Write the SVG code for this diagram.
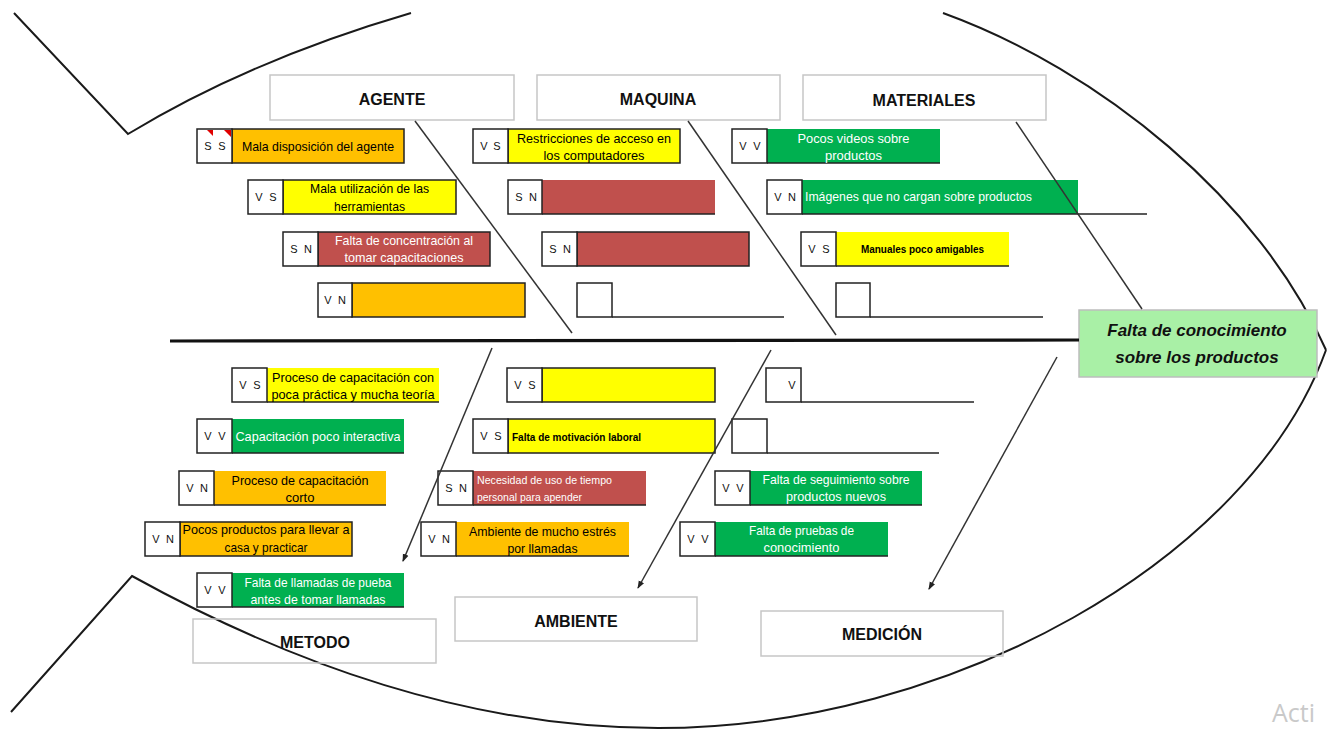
<svg xmlns="http://www.w3.org/2000/svg" width="1327" height="730" viewBox="0 0 1327 730">
<defs>
<style>
.fish{fill:none;stroke:#1a1a1a;stroke-width:2}
.spine{stroke:#111;stroke-width:3.2;fill:none}
.bone{stroke:#333;stroke-width:1.5;fill:none}
.cat{fill:none;stroke:#c6c6c6;stroke-width:1.5}
.catt{font-family:"Liberation Sans",Arial,sans-serif;font-weight:bold;font-size:16px;fill:#111;text-anchor:middle}
.code{fill:#fff;stroke:#222;stroke-width:1.5}
.ct{font-family:"Liberation Sans",Arial,sans-serif;font-size:11px;fill:#111;text-anchor:middle}
.o{fill:#FFC000}.y{fill:#FFFF00}.r{fill:#C0504D}.g{fill:#00B050}
.bd{stroke:#222;stroke-width:1.5}
.ul{stroke:#222;stroke-width:1.5;fill:none}
.t{font-family:"Liberation Sans",Arial,sans-serif;font-size:13px;fill:#000;text-anchor:middle}
.l{text-anchor:start}
.w{fill:#fff}
.s{font-size:11px}
.bo{font-weight:bold}
.mk{fill:#e00000}
.head{fill:#A9F0A6;stroke:#bdbdbd;stroke-width:1.5}
.headt{font-family:"Liberation Sans",Arial,sans-serif;font-weight:bold;font-style:italic;font-size:17px;fill:#111;text-anchor:middle}
</style>
<marker id="arr" markerWidth="8" markerHeight="8" refX="7" refY="4" orient="auto" markerUnits="userSpaceOnUse">
<path d="M0,1 L8,4 L0,7 Z" fill="#222"/>
</marker>
</defs>
<rect width="1327" height="730" fill="#fff"/>

<g id="outline">
<path class="fish" d="M14,13 L128,134 Q250,60 411,13"/>
<path class="fish" d="M943,13 C1100,70 1260,200 1326,350"/>
<path class="fish" d="M11,712 L132,576 C302,670 480,728 658,728 C950,728 1250,560 1326,350"/>
</g>

<g id="head">
<rect class="head" x="1079" y="310" width="238" height="67"/>
<text class="headt" x="1197" y="336">Falta de conocimiento</text>
<text class="headt" x="1197" y="363">sobre los productos</text>
</g>

<g id="cat-agente"><rect class="cat" x="270" y="75" width="244" height="45"/><text class="catt" x="392" y="105">AGENTE</text></g>
<g id="cat-maquina"><rect class="cat" x="537" y="75" width="243" height="45"/><text class="catt" x="658" y="105">MAQUINA</text></g>
<g id="cat-materiales"><rect class="cat" x="803" y="75" width="243" height="45"/><text class="catt" x="924" y="106">MATERIALES</text></g>
<g id="cat-metodo"><rect class="cat" x="193" y="619" width="243" height="44"/><text class="catt" x="315" y="648">METODO</text></g>
<g id="cat-ambiente"><rect class="cat" x="455" y="597" width="242" height="44"/><text class="catt" x="576" y="627">AMBIENTE</text></g>
<g id="cat-medicion"><rect class="cat" x="761" y="611" width="242" height="45"/><text class="catt" x="882" y="640">MEDICIÓN</text></g>

<!-- AGENTE causes -->
<g id="a1">
<rect class="o bd" x="232" y="129" width="172" height="34"/>
<rect class="code" x="197" y="129" width="35" height="34"/>
<path class="mk" d="M207,130 L213,130 L213,136 Z"/><path class="mk" d="M224,130 L231,130 L231,137 Z"/>
<text class="ct" x="208" y="150">S</text><text class="ct" x="222" y="150">S</text>
<text class="t" x="318" y="151" textLength="152" lengthAdjust="spacingAndGlyphs">Mala disposición del agente</text>
</g>
<g id="a2">
<rect class="y bd" x="283" y="180" width="173" height="34"/>
<rect class="code" x="248" y="180" width="35" height="34"/>
<text class="ct" x="259" y="201">V</text><text class="ct" x="273" y="201">S</text>
<text class="t" x="369.5" y="193" textLength="119" lengthAdjust="spacingAndGlyphs">Mala utilización de las</text>
<text class="t" x="369.5" y="211" textLength="71" lengthAdjust="spacingAndGlyphs">herramientas</text>
</g>
<g id="a3">
<rect class="r bd" x="318" y="232" width="172" height="34"/>
<rect class="code" x="283" y="232" width="35" height="34"/>
<text class="ct" x="294" y="253">S</text><text class="ct" x="308" y="253">N</text>
<text class="t w" x="404" y="245" textLength="138" lengthAdjust="spacingAndGlyphs">Falta de concentración al</text>
<text class="t w" x="404" y="262" textLength="119" lengthAdjust="spacingAndGlyphs">tomar capacitaciones</text>
</g>
<g id="a4">
<rect class="o bd" x="352" y="283" width="173" height="34"/>
<rect class="code" x="318" y="283" width="34" height="34"/>
<text class="ct" x="328" y="304">V</text><text class="ct" x="342" y="304">N</text>
</g>

<!-- MAQUINA causes -->
<g id="m1">
<rect class="y bd" x="508" y="129" width="172" height="34"/>
<rect class="code" x="473" y="129" width="35" height="34"/>
<text class="ct" x="484" y="150">V</text><text class="ct" x="497" y="150">S</text>
<text class="t" x="594" y="143" textLength="154" lengthAdjust="spacingAndGlyphs">Restricciones de acceso en</text>
<text class="t" x="594" y="160" textLength="101" lengthAdjust="spacingAndGlyphs">los computadores</text>
</g>
<g id="m2">
<rect class="r" x="542" y="180" width="173" height="34"/>
<line class="ul" x1="542" y1="214" x2="715" y2="214"/>
<rect class="code" x="508" y="180" width="34" height="34"/>
<text class="ct" x="519" y="201">S</text><text class="ct" x="533" y="201">N</text>
</g>
<g id="m3">
<rect class="r bd" x="577" y="232" width="172" height="34"/>
<rect class="code" x="542" y="232" width="35" height="34"/>
<text class="ct" x="553" y="253">S</text><text class="ct" x="567" y="253">N</text>
</g>
<g id="m4">
<line class="ul" x1="612" y1="317" x2="784" y2="317"/>
<rect class="code" x="577" y="283" width="35" height="34"/>
</g>

<!-- MATERIALES causes -->
<g id="t1">
<rect class="g" x="767" y="129" width="173" height="34"/>
<line class="ul" x1="767" y1="163" x2="940" y2="163"/>
<rect class="code" x="732" y="129" width="35" height="34"/>
<text class="ct" x="743" y="150">V</text><text class="ct" x="757" y="150">V</text>
<text class="t w" x="853.5" y="143" textLength="112" lengthAdjust="spacingAndGlyphs">Pocos videos sobre</text>
<text class="t w" x="853.5" y="160" textLength="57" lengthAdjust="spacingAndGlyphs">productos</text>
</g>
<g id="t2">
<rect class="g" x="802" y="180" width="276" height="34"/>
<line class="ul" x1="802" y1="214" x2="1147" y2="214"/>
<rect class="code" x="767" y="180" width="35" height="34"/>
<text class="ct" x="778" y="201">V</text><text class="ct" x="792" y="201">N</text>
<text class="t w l" x="805" y="201" textLength="227" lengthAdjust="spacingAndGlyphs">Imágenes que no cargan sobre productos</text>
</g>
<g id="t3">
<rect class="y" x="836" y="232" width="173" height="34"/>
<line class="ul" x1="836" y1="266" x2="1009" y2="266"/>
<rect class="code" x="801" y="232" width="35" height="34"/>
<text class="ct" x="812" y="253">V</text><text class="ct" x="826" y="253">S</text>
<text class="t s bo" x="922.5" y="253" textLength="123" lengthAdjust="spacingAndGlyphs">Manuales poco amigables</text>
</g>
<g id="t4">
<line class="ul" x1="870" y1="317" x2="1043" y2="317"/>
<rect class="code" x="836" y="283" width="34" height="34"/>
</g>

<!-- METODO causes -->
<g id="e1">
<rect class="y" x="267" y="368" width="172" height="34"/>
<line class="ul" x1="267" y1="402" x2="439" y2="402"/>
<rect class="code" x="232" y="368" width="35" height="34"/>
<text class="ct" x="243" y="389">V</text><text class="ct" x="257" y="389">S</text>
<text class="t" x="353" y="382" textLength="162" lengthAdjust="spacingAndGlyphs">Proceso de capacitación con</text>
<text class="t" x="353" y="399" textLength="163" lengthAdjust="spacingAndGlyphs">poca práctica y mucha teoría</text>
</g>
<g id="e2">
<rect class="g" x="232" y="419" width="172" height="34"/>
<line class="ul" x1="232" y1="453" x2="404" y2="453"/>
<rect class="code" x="197" y="419" width="35" height="34"/>
<text class="ct" x="208" y="440">V</text><text class="ct" x="222" y="440">V</text>
<text class="t w" x="318" y="441" textLength="165" lengthAdjust="spacingAndGlyphs">Capacitación poco interactiva</text>
</g>
<g id="e3">
<rect class="o" x="214" y="471" width="172" height="34"/>
<line class="ul" x1="214" y1="505" x2="386" y2="505"/>
<rect class="code" x="179" y="471" width="35" height="34"/>
<text class="ct" x="190" y="492">V</text><text class="ct" x="204" y="492">N</text>
<text class="t" x="300" y="485" textLength="137" lengthAdjust="spacingAndGlyphs">Proceso de capacitación</text>
<text class="t" x="300" y="502" textLength="29" lengthAdjust="spacingAndGlyphs">corto</text>
</g>
<g id="e4">
<rect class="o bd" x="180" y="522" width="172" height="34"/>
<rect class="code" x="145" y="522" width="35" height="34"/>
<text class="ct" x="156" y="543">V</text><text class="ct" x="170" y="543">N</text>
<text class="t" x="266" y="534" textLength="167" lengthAdjust="spacingAndGlyphs">Pocos productos para llevar a</text>
<text class="t" x="266" y="552" textLength="83" lengthAdjust="spacingAndGlyphs">casa y practicar</text>
</g>
<g id="e5">
<rect class="g" x="232" y="573" width="172" height="34"/>
<line class="ul" x1="232" y1="607" x2="404" y2="607"/>
<rect class="code" x="197" y="573" width="35" height="34"/>
<text class="ct" x="208" y="594">V</text><text class="ct" x="222" y="594">V</text>
<text class="t w" x="318" y="587" textLength="147" lengthAdjust="spacingAndGlyphs">Falta de llamadas de pueba</text>
<text class="t w" x="318" y="604" textLength="135" lengthAdjust="spacingAndGlyphs">antes de tomar llamadas</text>
</g>

<!-- AMBIENTE causes -->
<g id="b1">
<rect class="y bd" x="542" y="368" width="173" height="34"/>
<rect class="code" x="507" y="368" width="35" height="34"/>
<text class="ct" x="518" y="389">V</text><text class="ct" x="532" y="389">S</text>
</g>
<g id="b2">
<rect class="y bd" x="508" y="419" width="207" height="34"/>
<rect class="code" x="473" y="419" width="35" height="34"/>
<text class="ct" x="484" y="440">V</text><text class="ct" x="498" y="440">S</text>
<text class="t s bo l" x="512" y="441" textLength="129" lengthAdjust="spacingAndGlyphs">Falta de motivación laboral</text>
</g>
<g id="b3">
<rect class="r" x="473" y="471" width="173" height="34"/>
<line class="ul" x1="473" y1="505" x2="646" y2="505"/>
<rect class="code" x="438" y="471" width="35" height="34"/>
<text class="ct" x="449" y="492">S</text><text class="ct" x="463" y="492">N</text>
<text class="t w s l" x="477" y="484" textLength="135" lengthAdjust="spacingAndGlyphs">Necesidad de uso de tiempo</text>
<text class="t w s l" x="477" y="501" textLength="105" lengthAdjust="spacingAndGlyphs">personal para apender</text>
</g>
<g id="b4">
<rect class="o" x="456" y="522" width="173" height="34"/>
<line class="ul" x1="456" y1="556" x2="629" y2="556"/>
<rect class="code" x="421" y="522" width="35" height="34"/>
<text class="ct" x="432" y="543">V</text><text class="ct" x="446" y="543">N</text>
<text class="t" x="542.5" y="536" textLength="147" lengthAdjust="spacingAndGlyphs">Ambiente de mucho estrés</text>
<text class="t" x="542.5" y="553" textLength="70" lengthAdjust="spacingAndGlyphs">por llamadas</text>
</g>

<!-- MEDICION causes -->
<g id="d1">
<line class="ul" x1="801" y1="402" x2="974" y2="402"/>
<rect class="code" x="766" y="368" width="35" height="34"/>
<text class="ct" x="792" y="389">V</text>
</g>
<g id="d2">
<line class="ul" x1="767" y1="453" x2="939" y2="453"/>
<rect class="code" x="732" y="419" width="35" height="34"/>
</g>
<g id="d3">
<rect class="g" x="750" y="471" width="172" height="34"/>
<line class="ul" x1="750" y1="505" x2="922" y2="505"/>
<rect class="code" x="715" y="471" width="35" height="34"/>
<text class="ct" x="726" y="492">V</text><text class="ct" x="740" y="492">V</text>
<text class="t w" x="836" y="484" textLength="147" lengthAdjust="spacingAndGlyphs">Falta de seguimiento sobre</text>
<text class="t w" x="836" y="501" textLength="100" lengthAdjust="spacingAndGlyphs">productos nuevos</text>
</g>
<g id="d4">
<rect class="g" x="715" y="522" width="173" height="34"/>
<line class="ul" x1="715" y1="556" x2="888" y2="556"/>
<rect class="code" x="680" y="522" width="35" height="34"/>
<text class="ct" x="691" y="543">V</text><text class="ct" x="705" y="543">V</text>
<text class="t w" x="801.5" y="535" textLength="105" lengthAdjust="spacingAndGlyphs">Falta de pruebas de</text>
<text class="t w" x="801.5" y="552" textLength="76" lengthAdjust="spacingAndGlyphs">conocimiento</text>
</g>

<g id="connectors">
<line class="spine" x1="170" y1="341" x2="1079" y2="340"/>
<line class="bone" x1="415" y1="121" x2="572" y2="333"/>
<line class="bone" x1="688" y1="121" x2="836" y2="335"/>
<line class="bone" x1="1016" y1="122" x2="1142" y2="309"/>
<line class="bone" x1="492" y1="348" x2="403" y2="561" marker-end="url(#arr)"/>
<line class="bone" x1="771" y1="350" x2="638" y2="588" marker-end="url(#arr)"/>
<line class="bone" x1="1057" y1="357" x2="929" y2="589" marker-end="url(#arr)"/>
</g>

<text x="1272" y="722" font-family="'Open Sans','Liberation Sans',sans-serif" font-size="25" fill="#c9c9c9">Acti</text>
</svg>
